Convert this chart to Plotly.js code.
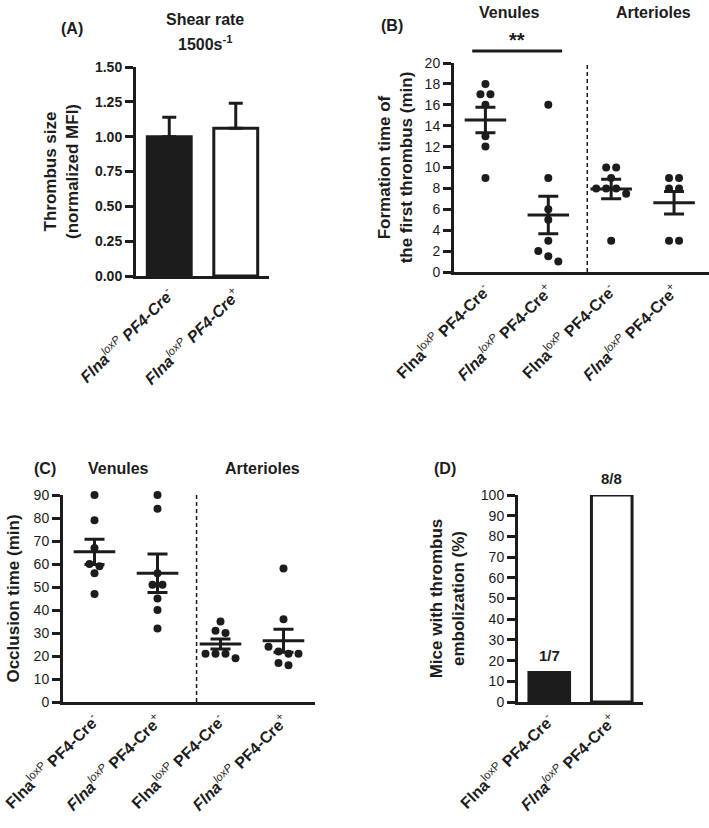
<!DOCTYPE html>
<html><head><meta charset="utf-8">
<script src="https://cdn.plot.ly/plotly-3.0.1.min.js"></script>
<style>html,body{margin:0;padding:0;background:#fff}</style>
</head><body><div id="chart" style="width:709px;height:828px"></div>
<script>
// ---------- Panel A: thrombus size at shear 1500 s^-1 ----------
const A_categories = [
  "<b><i>Flna</i></b><sup><i>loxP</i></sup> <b><i>PF4-Cre</i></b><sup>-</sup>",
  "<b><i>Flna</i></b><sup><i>loxP</i></sup> <b><i>PF4-Cre</i></b><sup>+</sup>"
];
const A_values = [1.00, 1.06];
const A_sem = [0.14, 0.18];

// ---------- Panel B: formation time of first thrombus ----------
const LBL_MINUS = "<b>Flna</b><sup>loxP</sup> <b>PF4-Cre</b><sup>-</sup>";
const LBL_PLUS = "<b><i>Flna</i></b><sup><i>loxP</i></sup> <b>PF4-Cre</b><sup>+</sup>";
const B_categories = [LBL_MINUS, LBL_PLUS, LBL_MINUS, LBL_PLUS];
const B_venules_minus = [18, 17, 17, 16, 13, 12, 9];
const B_venules_plus = [16, 9, 6, 5, 3, 2, 1.5, 1];
const B_arterioles_minus = [10, 10, 9, 8, 8, 8, 7.5, 3];
const B_arterioles_plus = [9, 9, 8, 8, 3, 3];
const B_means = [14.55, 5.45, 7.94, 6.63];
const B_sem = [1.22, 1.79, 0.94, 1.08];

// ---------- Panel C: occlusion time ----------
const C_categories = [LBL_MINUS, LBL_PLUS, LBL_MINUS, LBL_PLUS];
const C_venules_minus = [90, 79, 67, 60, 59, 56, 47];
const C_venules_plus = [90, 84, 56, 51, 51, 45, 40, 32];
const C_arterioles_minus = [35, 31, 30, 21, 21, 21, 19];
const C_arterioles_plus = [58, 36, 24, 22, 21, 21, 17, 16];
const C_means = [65.3, 56.0, 25.2, 26.6];
const C_sem = [5.5, 8.4, 2.2, 5.0];

// ---------- Panel D: embolization ----------
const D_categories = [LBL_MINUS, LBL_PLUS];
const D_values = [14.29, 100];
const D_labels = ["1/7", "8/8"];

// ================= drawing =================
const W = 709, H = 828;
const INK = "#1c1c1c";
const FONT = "Liberation Sans, Arial, sans-serif";
const px = x => x / W;
const py = y => 1 - y / H;

const dom = {
  A: {x: [px(136), px(269)], y: [py(276), py(67)], xr: [-0.5, 1.5], yr: [0, 1.5]},
  B: {x: [px(454), 1], y: [py(272), py(63)], xr: [-0.5, 3.556], yr: [0, 20]},
  C: {x: [px(63), px(315)], y: [py(702), py(495)], xr: [-0.5, 3.5], yr: [0, 90]},
  D: {x: [px(518), px(643)], y: [py(702), py(495)], xr: [-0.5, 1.5], yr: [0, 100]}
};

const MS = 8; // marker diameter px
function swarm(vals, center, d) {
  const pxPerY = (d.y[1] - d.y[0]) * H / (d.yr[1] - d.yr[0]);
  const pxPerX = (d.x[1] - d.x[0]) * W / (d.xr[1] - d.xr[0]);
  const idx = vals.map((v, i) => i).sort((a, b) => vals[b] - vals[a]);
  const groups = [];
  let cur = [];
  idx.forEach(i => {
    if (cur.length && (vals[cur[cur.length - 1]] - vals[i]) * pxPerY >= MS * 0.8) {
      groups.push(cur); cur = [];
    }
    cur.push(i);
  });
  if (cur.length) groups.push(cur);
  const xs = new Array(vals.length);
  const step = MS * 1.25 / pxPerX;
  groups.forEach(g => {
    g.forEach((i, k) => { xs[i] = center + (k - (g.length - 1) / 2) * step; });
  });
  return xs;
}

const traces = [];

// Panel A bars
traces.push({
  type: "bar", x: [0, 1], y: A_values, xaxis: "x", yaxis: "y", width: 0.66,
  marker: {color: [INK, "#ffffff"], line: {color: INK, width: 3}},
  error_y: {type: "data", symmetric: false, array: A_sem, arrayminus: [0, 0],
            color: INK, thickness: 3, width: 7},
  hoverinfo: "skip"
});

function dotPanel(groups, means, sems, xa, ya, d) {
  groups.forEach((vals, i) => {
    traces.push({
      type: "scatter", mode: "markers", x: swarm(vals, i, d), y: vals,
      xaxis: xa, yaxis: ya, cliponaxis: false,
      marker: {color: INK, size: MS}, hoverinfo: "skip"
    });
    traces.push({
      type: "scatter", mode: "lines", x: [i - 0.33, i + 0.33], y: [means[i], means[i]],
      xaxis: xa, yaxis: ya, cliponaxis: false,
      line: {color: INK, width: 3}, hoverinfo: "skip"
    });
    traces.push({
      type: "scatter", mode: "markers", x: [i], y: [means[i]],
      xaxis: xa, yaxis: ya, cliponaxis: false,
      marker: {size: 1, opacity: 0},
      error_y: {type: "data", array: [sems[i]], color: INK, thickness: 3, width: 10},
      hoverinfo: "skip"
    });
  });
}
dotPanel([B_venules_minus, B_venules_plus, B_arterioles_minus, B_arterioles_plus],
         B_means, B_sem, "x2", "y2", dom.B);
dotPanel([C_venules_minus, C_venules_plus, C_arterioles_minus, C_arterioles_plus],
         C_means, C_sem, "x3", "y3", dom.C);

// Panel D bars
traces.push({
  type: "bar", x: [0, 1], y: D_values, xaxis: "x4", yaxis: "y4", width: 0.65,
  marker: {color: [INK, "#ffffff"], line: {color: INK, width: 3}},
  hoverinfo: "skip", cliponaxis: false
});

function xAxis(d, anchor, ticktext) {
  return {
    domain: d.x, range: d.xr, anchor: anchor, fixedrange: true,
    tickvals: ticktext.map((t, i) => i), ticktext: ticktext, tickangle: -45,
    ticks: "", showline: true, linewidth: 3, linecolor: INK,
    showgrid: false, zeroline: false,
    tickfont: {family: FONT, size: 16, color: INK}
  };
}
function yAxis(d, anchor, dtick, title, standoff, bold, fmt) {
  return {
    domain: d.y, range: d.yr, anchor: anchor, fixedrange: true,
    tick0: 0, dtick: dtick, tickformat: fmt || "",
    ticks: "outside", ticklen: 8, tickwidth: 3, tickcolor: INK,
    showline: true, linewidth: 3, linecolor: INK,
    showgrid: false, zeroline: false,
    tickfont: {family: FONT, size: 14, color: INK, weight: bold ? "bold" : "normal"},
    title: {text: title, standoff: standoff,
            font: {family: FONT, size: 17, color: INK, weight: "bold"}}
  };
}

const bold = (t, size, x, y, extra) => Object.assign({
  text: t, xref: "paper", yref: "paper", x: x, y: y, showarrow: false,
  xanchor: "center", yanchor: "middle",
  font: {family: FONT, size: size || 16, color: INK, weight: "bold"}
}, extra || {});

const annotations = [
  bold("(A)", 16, px(72), py(28)),
  bold("Shear rate", 16, px(205), py(20)),
  bold("1500s<sup>-1</sup>", 16, px(205), py(43)),
  bold("(B)", 16, px(392), py(25)),
  bold("Venules", 16, 0.38, py(13), {xref: "x2"}),
  bold("Arterioles", 16, 2.67, py(13), {xref: "x2"}),
  bold("**", 20, 0.5, py(40), {xref: "x2"}),
  bold("(C)", 16, px(45), py(469)),
  bold("Venules", 16, 0.38, py(469), {xref: "x3"}),
  bold("Arterioles", 16, 2.67, py(469), {xref: "x3"}),
  bold("(D)", 16, px(445), py(469))
];
D_values.forEach((v, i) => {
  annotations.push({
    text: D_labels[i], xref: "x4", yref: "y4", x: i, y: v,
    xanchor: "center", yanchor: "bottom",
    yshift: 6, showarrow: false,
    font: {family: FONT, size: 15, color: INK, weight: "bold"}
  });
});

const shapes = [
  {type: "line", xref: "x2", yref: "y2", x0: 1.62, x1: 1.62, y0: 0, y1: 20,
   line: {color: INK, width: 1.5, dash: "4px,3px"}},
  {type: "line", xref: "x3", yref: "y3", x0: 1.62, x1: 1.62, y0: 0, y1: 90,
   line: {color: INK, width: 1.5, dash: "4px,3px"}},
  {type: "line", xref: "x2", yref: "paper", x0: -0.21, x1: 1.22, y0: py(51), y1: py(51),
   line: {color: INK, width: 3}}
];

const layout = {
  width: W, height: H, margin: {l: 0, r: 0, t: 0, b: 0},
  paper_bgcolor: "#ffffff", plot_bgcolor: "#ffffff", showlegend: false,
  font: {family: FONT, color: INK},
  xaxis: xAxis(dom.A, "y", A_categories),
  yaxis: yAxis(dom.A, "x", 0.25, "Thrombus size<br>(normalized MFI)", 12, true, ".2f"),
  xaxis2: xAxis(dom.B, "y2", B_categories),
  yaxis2: yAxis(dom.B, "x2", 2, "Formation time of<br>the first thrombus (min)", 8, false),
  xaxis3: xAxis(dom.C, "y3", C_categories),
  yaxis3: yAxis(dom.C, "x3", 10, "Occlusion time (min)", 10, false),
  xaxis4: xAxis(dom.D, "y4", D_categories),
  yaxis4: yAxis(dom.D, "x4", 10, "Mice with thrombus<br>embolization (%)", 12, false),
  annotations: annotations, shapes: shapes
};

Plotly.newPlot("chart", traces, layout, {staticPlot: true, displayModeBar: false});
</script></body></html>
